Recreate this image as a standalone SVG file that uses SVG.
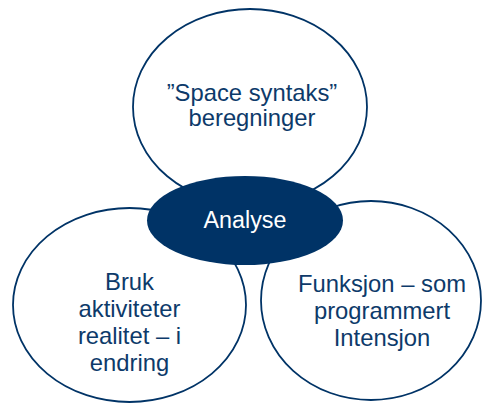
<svg xmlns="http://www.w3.org/2000/svg" width="482" height="403" viewBox="0 0 482 403">
<style>
.ring{fill:#ffffff;stroke:#003366;stroke-width:1.8}
.hub{fill:#003366;stroke:none}
.t{font-family:"Liberation Sans",Arial,sans-serif;font-size:23.8px;fill:#0d3a6a;text-anchor:middle}
.tw{font-family:"Liberation Sans",Arial,sans-serif;font-size:23.3px;fill:#ffffff;text-anchor:middle}
</style>
<rect width="482" height="403" fill="#ffffff"/>
<g id="node-space-syntaks">
<ellipse class="ring" cx="250" cy="107" rx="117" ry="98"/>
<text class="t" x="252" y="101">”Space syntaks”</text>
<text class="t" x="252" y="126">beregninger</text>
</g>
<g id="node-bruk">
<ellipse class="ring" cx="129.5" cy="305" rx="116.5" ry="97"/>
<text class="t" x="129.5" y="290">Bruk</text>
<text class="t" x="129.5" y="317">aktiviteter</text>
<text class="t" x="129.5" y="344">realitet – i</text>
<text class="t" x="129.5" y="371">endring</text>
</g>
<g id="node-funksjon">
<ellipse class="ring" cx="371" cy="300.5" rx="110" ry="99.5"/>
<text class="t" x="382" y="292">Funksjon – som</text>
<text class="t" x="382" y="319">programmert</text>
<text class="t" x="382" y="346">Intensjon</text>
</g>
<g id="node-analyse">
<ellipse class="hub" cx="245" cy="220.5" rx="98" ry="44.5"/>
<text class="tw" x="245" y="227.5">Analyse</text>
</g>
</svg>
